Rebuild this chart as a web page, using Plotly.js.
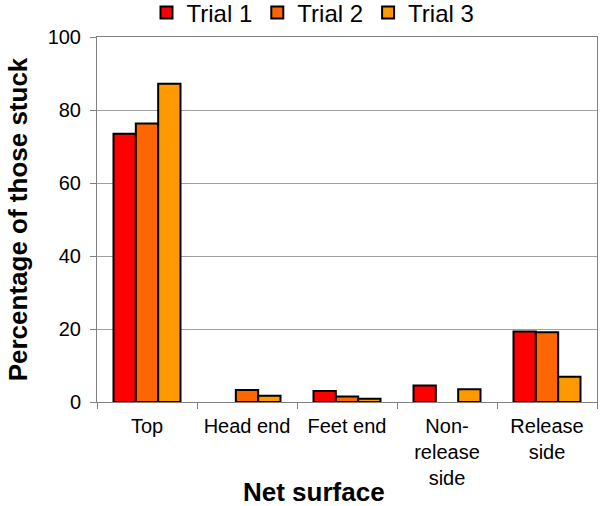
<!DOCTYPE html>
<html><head><meta charset="utf-8">
<script src="https://cdn.plot.ly/plotly-3.0.1.min.js"></script>
<style>body{margin:0;padding:0;background:#fff}#chart{width:600px;height:506px}</style>
</head><body><div id="chart"></div>
<script>
const categories = ["Top", "Head end", "Feet end", "Non-<br>release<br>side", "Release<br>side"];
const trial1 = [73.5, 0, 3.0, 4.5, 19.3];
const trial2 = [76.3, 3.3, 1.5, 0, 19.1];
const trial3 = [87.2, 1.7, 0.9, 3.5, 6.9];
const seriesNames = ["Trial 1", "Trial 2", "Trial 3"];
const colors = ["#FF0000", "#FF6600", "#FF9900"];
const yTicks = [0, 20, 40, 60, 80, 100];

const data = [trial1, trial2, trial3].map((vals, i) => ({
  type: "bar", x: categories, y: vals, name: seriesNames[i],
  marker: {color: colors[i], line: {color: "#000", width: vals.map(v => v === 0 ? 0 : 2)}}
}));

const layout = {
  width: 600, height: 506,
  margin: {l: 97, r: 3, t: 37, b: 104, autoexpand: false},
  font: {family: "Liberation Sans, Arial, sans-serif", color: "#000"},
  paper_bgcolor: "#fff", plot_bgcolor: "#fff",
  barmode: "group", bargap: 0.33, bargroupgap: 0,
  showlegend: true,
  legend: {orientation: "h", x: 0.432, xanchor: "center",
           y: 1.066, yanchor: "middle",
           bgcolor: "rgba(0,0,0,0)", font: {size: 24}, itemwidth: 30, traceorder: "normal"},
  xaxis: {
    type: "category", tickson: "boundaries", ticks: "outside", ticklen: 6,
    tickcolor: "#808080", showline: true, linecolor: "#808080", linewidth: 1,
    mirror: true, tickfont: {size: 20}, showgrid: false, ticklabelstandoff: 6
  },
  yaxis: {
    range: [0, 100], tickvals: yTicks, ticks: "outside", ticklen: 6,
    tickcolor: "#808080", showline: true, linecolor: "#808080", linewidth: 1,
    mirror: true, showgrid: true, gridcolor: "#a0a0a0", gridwidth: 1,
    tickfont: {size: 20}, zeroline: false, ticklabelstandoff: 5,
    title: {text: "<b>Percentage of those stuck</b>", font: {size: 26}, standoff: 12}
  },
  annotations: [{
    text: "<b>Net surface</b>", font: {size: 26}, showarrow: false,
    xref: "paper", yref: "paper", x: 0.434, y: -0.247, xanchor: "center", yanchor: "middle"
  }]
};

Plotly.newPlot("chart", data, layout, {displayModeBar: false, staticPlot: true});
</script></body></html>
